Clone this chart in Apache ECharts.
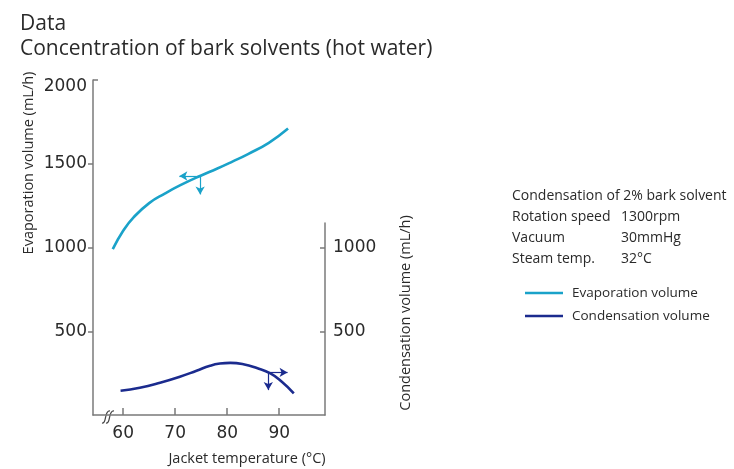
<!DOCTYPE html>
<html><head><meta charset="utf-8">
<script src="https://cdn.jsdelivr.net/npm/echarts@6/dist/echarts.min.js"></script>
<style>html,body{margin:0;padding:0;background:#fff}#c{width:734px;height:469px}</style>
</head><body><div id="c"></div>
<script>
// ---- data ----
const evapTemp = [58.0, 60.0, 62.0, 65.0, 68.0, 71.0, 75.0, 78.0, 81.0, 84.0, 88.0, 91.7];
const evapVol  = [990, 1100, 1180, 1265, 1322, 1372, 1430, 1470, 1513, 1558, 1625, 1710];
const condTemp = [59.5, 63.2, 67.1, 70.9, 74.1, 76.7, 78.6, 80.6, 83.1, 85.7, 88.3, 90.5, 92.8];
const condVol  = [145, 163, 193, 229, 265, 295, 308, 312, 304, 281, 249, 199, 130];
const xTicks = [60, 70, 80, 90];
const leftTicks = [500, 1000, 1500, 2000];
const rightTicks = [500, 1000];
// arrow markers: [fromTemp, fromVol, toTemp, toVol]
const evapArrow = [74.8, 1427, 70.8, 1317];
const condArrow = [87.9, 255, 91.6, 149];
const infoLabels = ['Condensation of 2% bark solvent', 'Rotation speed', 'Vacuum', 'Steam temp.'];
const infoValues = ['', '1300rpm', '30mmHg', '32°C'];

const C_EVAP = '#1aa2c9';
const C_COND = '#1b2b8e';
const AX = '#7a7a7a';
const TXT = '#2a2a2a';
const FONT = 'Open Sans';
const NUMFONT = 'DejaVu Sans';

const chart = echarts.init(document.getElementById('c'), null, {renderer: 'canvas'});
const zip = (a, b) => a.map((v, i) => [v, b[i]]);
const arrowLines = (a) => [
  [{coord: [a[0], a[1]]}, {coord: [a[2], a[1]]}],
  [{coord: [a[0], a[1]]}, {coord: [a[0], a[3]]}]
];
const plain = (v) => String(v);
const leftFmt = (v) => v === 2000 ? '{t|' + v + '}' : String(v);

const graphic = [
  {type: 'text', left: 20, top: 14, style: {text: 'Data', fontSize: 21, fontFamily: FONT, fill: TXT}},
  {type: 'text', left: 20, top: 39, style: {text: 'Concentration of bark solvents (hot water)', fontSize: 21, fontFamily: FONT, fill: TXT}},
  {type: 'text', x: 29, y: 163, rotation: Math.PI / 2, style: {text: 'Evaporation volume (mL/h)', fontSize: 14.5, fontFamily: FONT, fill: TXT, align: 'center', verticalAlign: 'middle'}},
  {type: 'text', x: 406, y: 313, rotation: Math.PI / 2, style: {text: 'Condensation volume (mL/h)', fontSize: 14.5, fontFamily: FONT, fill: TXT, align: 'center', verticalAlign: 'middle'}},
  {type: 'text', x: 247, y: 459, style: {text: 'Jacket temperature (°C)', fontSize: 14.5, fontFamily: FONT, fill: TXT, align: 'center', verticalAlign: 'middle'}},
  // axis break mark
  {type: 'bezierCurve', shape: {x1: 102, y1: 423, cpx1: 107, cpy1: 424, cpx2: 104, cpy2: 410, x2: 110, y2: 411}, style: {stroke: '#444', lineWidth: 1.2, fill: null}},
  {type: 'bezierCurve', shape: {x1: 106, y1: 423, cpx1: 111, cpy1: 424, cpx2: 108, cpy2: 410, x2: 114, y2: 411}, style: {stroke: '#444', lineWidth: 1.2, fill: null}}
];
infoLabels.forEach((t, i) => {
  const y = 196 + i * 21;
  graphic.push({type: 'text', x: 512, y: y, style: {text: t, fontSize: 14, fontFamily: FONT, fill: TXT, verticalAlign: 'middle'}});
  if (infoValues[i]) graphic.push({type: 'text', x: 621, y: y, style: {text: infoValues[i], fontSize: 14, fontFamily: FONT, fill: TXT, verticalAlign: 'middle'}});
});

const option = {
  backgroundColor: '#fff',
  animation: false,
  textStyle: {fontFamily: FONT},
  graphic: graphic,
  legend: {
    left: 520, top: 280, orient: 'vertical', selectedMode: false,
    icon: 'rect', itemWidth: 38, itemHeight: 2.5, itemGap: 7,
    textStyle: {fontSize: 13.5, color: TXT, fontFamily: FONT, padding: [0, 0, 0, 4], lineHeight: 16},
    data: ['Evaporation volume', 'Condensation volume']
  },
  grid: [
    {left: 93, right: 409, top: 80, bottom: 54},
    {left: 93, right: 409, top: 223, bottom: 54}
  ],
  xAxis: [
    {gridIndex: 0, type: 'value', min: 54.2, max: 98.8,
     axisLine: {show: true, lineStyle: {color: AX, width: 1.5}},
     axisTick: {show: true, inside: true, length: 7, customValues: xTicks, lineStyle: {color: AX, width: 1.5}},
     axisLabel: {customValues: xTicks, formatter: plain, fontSize: 17, color: TXT, margin: 10, fontFamily: NUMFONT},
     splitLine: {show: false}},
    {gridIndex: 1, type: 'value', min: 54.2, max: 98.8, show: false}
  ],
  yAxis: [
    {gridIndex: 0, type: 'value', min: 0, max: 2000, position: 'left',
     axisLine: {show: true, lineStyle: {color: AX, width: 1.5}},
     axisTick: {show: true, length: 5, customValues: [500, 1000, 1500], lineStyle: {color: AX, width: 1.5}},
     axisLabel: {customValues: leftTicks, formatter: leftFmt, fontSize: 17, color: TXT, margin: 6, fontFamily: NUMFONT,
       rich: {t: {fontSize: 17, fontFamily: NUMFONT, color: TXT, padding: [14, 0, 0, 0]}}},
     splitLine: {show: false}},
    {gridIndex: 1, type: 'value', min: 0, max: 1150, position: 'right',
     axisLine: {show: true, lineStyle: {color: AX, width: 1.5}},
     axisTick: {show: true, inside: true, length: 5, customValues: rightTicks, lineStyle: {color: AX, width: 1.5}},
     axisLabel: {customValues: rightTicks, formatter: plain, fontSize: 17, color: TXT, margin: 8, fontFamily: NUMFONT},
     splitLine: {show: false}},
    {gridIndex: 0, type: 'value', min: 0, max: 2000, position: 'left',
     axisLine: {show: false},
     axisTick: {show: true, inside: true, length: 5, customValues: [2000], lineStyle: {color: AX, width: 1.5}},
     axisLabel: {show: false}, splitLine: {show: false}}
  ],
  series: [
    {name: 'Evaporation volume', type: 'line', xAxisIndex: 0, yAxisIndex: 0,
     data: zip(evapTemp, evapVol), smooth: 0.5, showSymbol: false, symbol: 'none',
     lineStyle: {color: C_EVAP, width: 2.6}, itemStyle: {color: C_EVAP},
     markLine: {silent: true, symbol: ['none', 'arrow'], symbolSize: [7, 8], label: {show: false},
       lineStyle: {color: C_EVAP, width: 1.2, type: 'solid'}, data: arrowLines(evapArrow)}},
    {name: 'Condensation volume', type: 'line', xAxisIndex: 1, yAxisIndex: 1,
     data: zip(condTemp, condVol), smooth: 0.5, showSymbol: false, symbol: 'none',
     lineStyle: {color: C_COND, width: 2.6}, itemStyle: {color: C_COND},
     markLine: {silent: true, symbol: ['none', 'arrow'], symbolSize: [7, 8], label: {show: false},
       lineStyle: {color: C_COND, width: 1.2, type: 'solid'}, data: arrowLines(condArrow)}}
  ]
};
chart.setOption(option);
</script>
</body></html>
